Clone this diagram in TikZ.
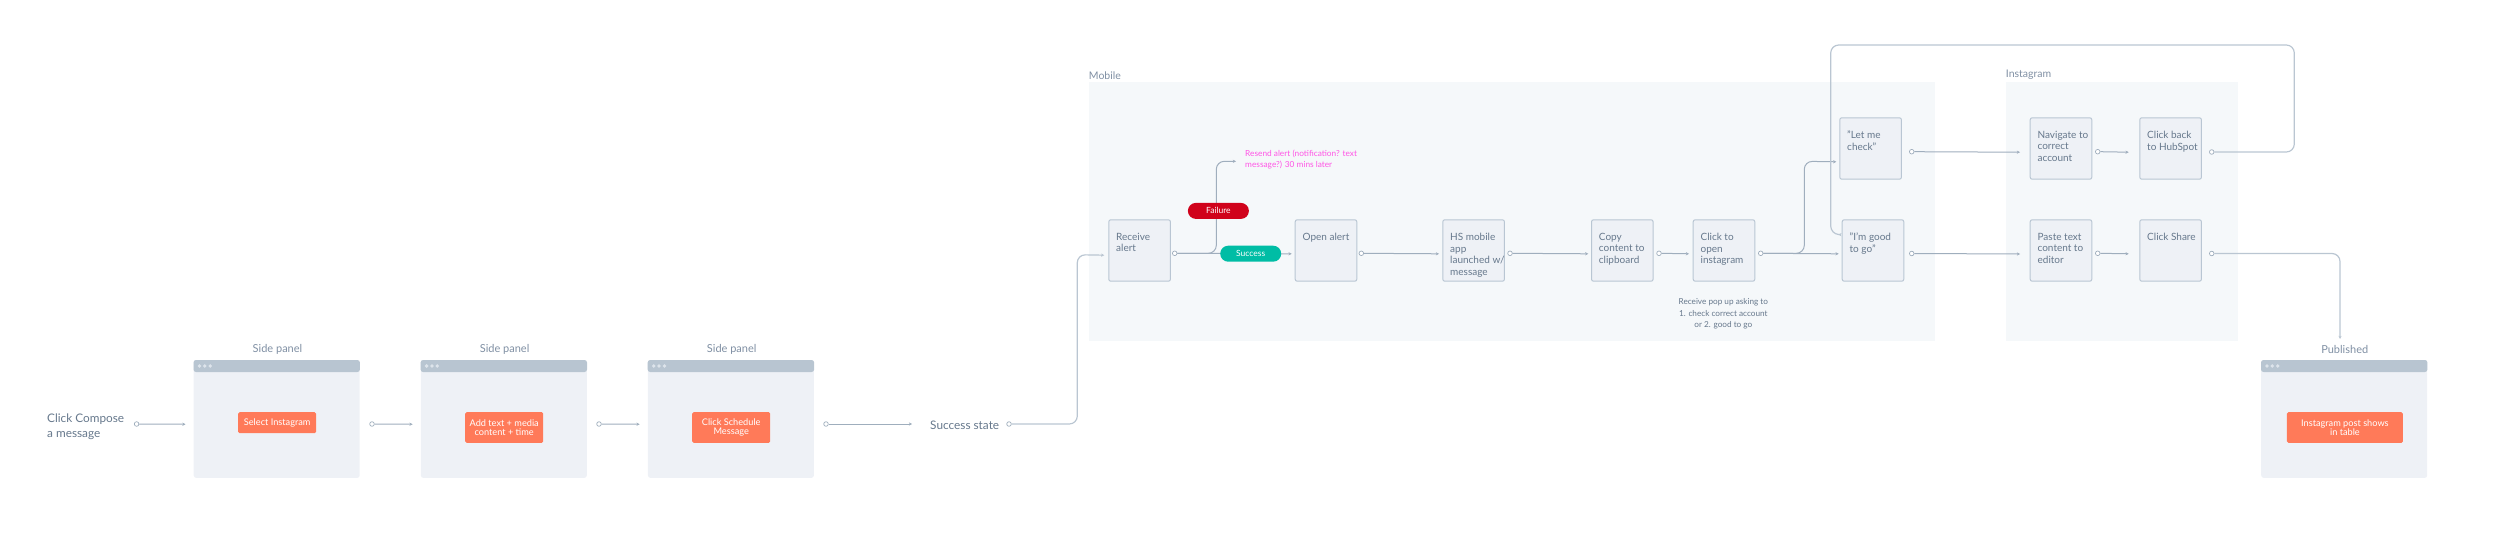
\documentclass[tikz,border=0pt]{standalone}
\usepackage{fontspec}
\setmainfont{Lato}
\usetikzlibrary{arrows.meta}
\definecolor{txt}{HTML}{66788C}
\definecolor{lbl}{HTML}{7F8FA3}
\definecolor{regionbg}{HTML}{F5F8FA}
\definecolor{boxbg}{HTML}{EEF1F6}
\definecolor{boxln}{HTML}{B9C6D3}
\definecolor{head}{HTML}{B8C5D1}
\definecolor{dotc}{HTML}{DDE4EB}
\definecolor{orangec}{HTML}{FF7A59}
\definecolor{linec}{HTML}{9FAEBD}
\definecolor{linet}{HTML}{BAC6D2}
\definecolor{pinkc}{HTML}{FF55E6}
\definecolor{failc}{HTML}{D0021B}
\definecolor{succc}{HTML}{00BDA5}
\newcommand{\fsz}[2]{\fontsize{#1pt}{#2pt}\selectfont}
\newcommand{\boxt}[1]{\parbox[c][61.4pt][t]{61.6pt}{\leftskip=7.4pt\rightskip=-10pt plus 20pt\parindent=0pt\vspace*{13.2pt}\fsz{10}{11.7}#1}}
\tikzset{
  region/.style={fill=regionbg,draw=none,inner sep=0,anchor=north west},
  stepbox/.style={fill=boxbg,draw=boxln,line width=1pt,rounded corners=2pt,inner sep=0,
     text=txt,anchor=north west,font=\fsz{10}{11.7},minimum width=61.6pt,minimum height=61.4pt},
  panel/.style={fill=boxbg,draw=none,rounded corners=2.5pt,inner sep=0,anchor=north west,minimum height=117.7pt},
  btn/.style={fill=orangec,draw=none,rounded corners=1.5pt,inner sep=0,text=white,align=center,anchor=north west,font=\fsz{9.2}{8.9}},
  pill/.style={rounded corners=8pt,inner sep=0,text=white,minimum width=61pt,minimum height=16pt,font=\fsz{8.5}{10},anchor=north west},
  head label/.style={text=lbl,font=\fsz{10.5}{12},inner sep=0},
  main label/.style={text=txt,font=\fsz{11.8}{15},inner sep=0,align=left},
  dot/.style={circle,draw=linec,fill=white,line width=.7pt,minimum size=4.6pt,inner sep=0},
  conn/.style={draw=linec,line width=1pt,-{Stealth[length=3.2pt,width=3.2pt]}},
  routed/.style={conn,draw=linet,line width=1.2pt,rounded corners=8pt},
  routedm/.style={conn,rounded corners=8pt},
}
\newcommand{\panelhead}[1]{%
  \fill[head,rounded corners=2.5pt] (#1.north west) -- (#1.north east) -- ([yshift=-12pt]#1.north east) -- ([yshift=-12pt]#1.north west) -- cycle;
  \foreach \dx in {6,11.3,16.7} \fill[dotc] ([xshift=\dx pt,yshift=-6pt]#1.north west) circle (1.9pt);
}
\begin{document}
\begin{tikzpicture}[x=1pt,y=-1pt]
\useasboundingbox (0,0) rectangle (2500,535);
% regions
\node[region,minimum width=846.7pt,minimum height=259.3pt] (mobile) at (1088.3,81.7) {};
\node[region,minimum width=232.3pt,minimum height=259.3pt] (insta) at (2005.7,81.7) {};
\node[head label,anchor=south west] (mobilel) at (1088.7,79.5) {Mobile};
\node[head label,anchor=south west] (instal) at (2005.7,79.5) {Instagram};
% left part
\node[main label,anchor=west] (compose) at (47,427) {Click Compose\\a message};
\node[panel,minimum width=166pt] (p1) at (193.5,360) {};
\node[panel,minimum width=166pt] (p2) at (420.6,360) {};
\node[panel,minimum width=166pt] (p3) at (647.7,360) {};
\node[panel,minimum width=166pt] (p4) at (2261,360) {};
\panelhead{p1}\panelhead{p2}\panelhead{p3}\panelhead{p4}
\node[head label,anchor=center,font=\fsz{11}{12}] (l1) at (277.5,349.5) {Side panel};
\node[head label,anchor=center,font=\fsz{11}{12}] (l2) at (504.6,349.5) {Side panel};
\node[head label,anchor=center,font=\fsz{11}{12}] (l3) at (731.7,349.5) {Side panel};
\node[head label,anchor=center,font=\fsz{11}{12}] (l4) at (2344.7,349.5) {Published};
\node[btn,minimum width=78pt,minimum height=21pt] (b1) at (238,412) {Select Instagram};
\node[btn,minimum width=78pt,minimum height=30.7pt] (b2) at (465,412) {Add text + media\\content + time};
\node[btn,minimum width=78pt,minimum height=30.7pt] (b3) at (692,412) {Click Schedule\\Message};
\node[btn,minimum width=116pt,minimum height=30.7pt] (b4) at (2286.7,412) {Instagram post shows\\in table};
\node[main label,anchor=west] (state) at (930,425) {Success state};
% step boxes
\node[stepbox] (receive) at (1108.3,219.3) {\boxt{Receive\\alert}};
\node[stepbox] (open) at (1294.7,219.3) {\boxt{Open alert}};
\node[stepbox] (hs) at (1442.3,219.3) {\boxt{HS mobile\\app\\launched w/\\message}};
\node[stepbox] (copy) at (1591,219.3) {\boxt{Copy\\content to\\clipboard}};
\node[stepbox] (click) at (1692.7,219.3) {\boxt{Click to\\open\\instagram}};
\node[stepbox] (check) at (1839.3,117.3) {\boxt{"Let me\\check"}};
\node[stepbox] (good) at (1841.7,219.3) {\boxt{"I'm good\\to go"}};
\node[stepbox] (nav) at (2029.7,117.3) {\boxt{Navigate to\\correct\\account}};
\node[stepbox] (back) at (2139.3,117.3) {\boxt{Click back\\to HubSpot}};
\node[stepbox] (paste) at (2029.7,219.3) {\boxt{Paste text\\content to\\editor}};
\node[stepbox] (share) at (2139.3,219.3) {\boxt{Click Share}};
% texts
\node[text=pinkc,font=\fsz{8.3}{11},inner sep=0,align=left,anchor=west] (resend) at (1245,160) {Resend alert (notification? text\\message?) 30 mins later};
\node[text=txt,font=\fsz{8.2}{11.7},inner sep=0,align=center,anchor=center] (popup) at (1723.3,314) {Receive pop up asking to\\1. check correct account\\or 2. good to go};
% free ends
\coordinate (resendin) at (1236,161.3);
\coordinate (statein) at (912,424);
% start dots
\node[dot] (d0) at (136.6,424) {};
\node[dot] (d1) at (372,424) {};
\node[dot] (d2) at (599,424) {};
\node[dot] (d3) at (826,424) {};
\node[dot] (d4) at (1009,424) {};
\node[dot] (d5) at (1174.7,253.3) {};
\node[dot] (d6) at (1361.3,253.3) {};
\node[dot] (d7) at (1510,253.3) {};
\node[dot] (d8) at (1659,253.3) {};
\node[dot] (d9) at (1760.7,253.3) {};
\node[dot] (d10) at (1911.7,151.7) {};
\node[dot] (d11) at (1911.7,253.5) {};
\node[dot] (d12) at (2097.7,151.7) {};
\node[dot] (d13) at (2097.7,253.3) {};
\node[dot] (d14) at (2211.7,152) {};
\node[dot] (d15) at (2211.7,253.5) {};
% connectors
\draw[conn] (d0.east) -- ([xshift=-8pt,yshift=-5.2pt]p1.west);
\draw[conn] (d1.east) -- ([xshift=-8pt,yshift=-5.2pt]p2.west);
\draw[conn] (d2.east) -- ([xshift=-8pt,yshift=-5.2pt]p3.west);
\draw[conn] (d3.east) -- (statein);
\draw[routed] (d4.east) -- (1077.3,424) -- (1077.3,254.7) -- ([xshift=-4pt,yshift=-4.7pt]receive.west);
\draw[routedm] (d5.east) -- (1216.3,253.3) -- (1216.3,161.3) -- (resendin);
\draw[conn] (d5.east) -- ([xshift=-3pt,yshift=-3.3pt]open.west);
\draw[conn] (d6.east) -- ([xshift=-3.3pt,yshift=-3.3pt]hs.west);
\draw[conn] (d7.east) -- ([xshift=-2.7pt,yshift=-3.3pt]copy.west);
\draw[conn] (d8.east) -- ([xshift=-3.7pt,yshift=-3.3pt]click.west);
\draw[conn] (d9.east) -- ([xshift=-3pt,yshift=-3.3pt]good.west);
\draw[routedm] (d9.east) -- (1804.3,253.3) -- (1804.3,161.3) -- ([xshift=-3pt,yshift=-13.3pt]check.west);
\draw[conn] (d10.east) -- ([xshift=-9.7pt,yshift=-3.7pt]nav.west);
\draw[conn] (d11.east) -- ([xshift=-9.7pt,yshift=-3.5pt]paste.west);
\draw[conn] (d12.east) -- ([xshift=-10.6pt,yshift=-3.7pt]back.west);
\draw[conn] (d13.east) -- ([xshift=-10.6pt,yshift=-3.3pt]share.west);
\draw[routed] (d14.east) -- (2294.3,152) -- (2294.3,45) -- (1830.7,45) -- (1830.7,234) -- ([xshift=-3.4pt,yshift=16pt]good.west);
\draw[routed] (d15.east) -- (2340,253.5) -- (2340,339);
% pills
\node[pill,fill=failc] (fail) at (1187.7,202.7) {Failure};
\node[pill,fill=succc] (succ) at (1220,245.5) {Success};
\end{tikzpicture}
\end{document}
